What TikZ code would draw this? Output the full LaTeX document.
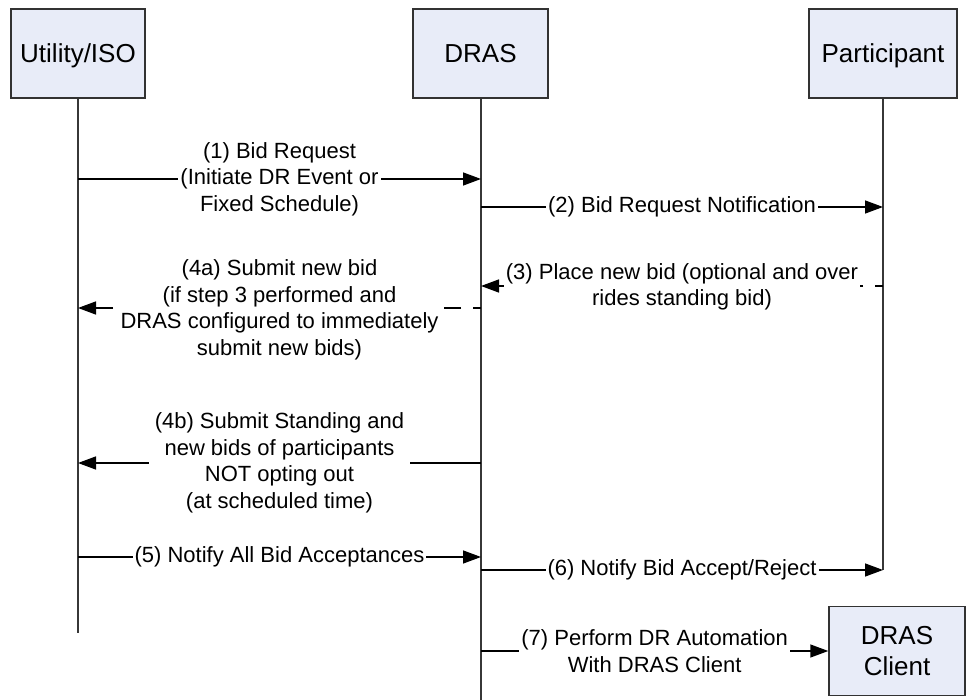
\documentclass[tikz,border=0pt]{standalone}
\usepackage{fontspec}
\setmainfont{Liberation Sans}
\usetikzlibrary{arrows.meta}
\definecolor{boxfill}{RGB}{232,236,248}
\definecolor{boxline}{RGB}{50,50,50}
\definecolor{lifecol}{RGB}{55,55,55}
\tikzset{
  actor/.style={draw=boxline, line width=1.5pt, fill=boxfill, minimum height=89pt,
    inner sep=0pt, align=center, font=\fontsize{26}{31}\selectfont},
  oneline/.style={text height=19pt, text depth=0pt},
  life/.style={draw=lifecol, line width=1.8pt},
  msg/.style={line width=1.5pt, -{Triangle[length=18pt,width=13pt]}},
  dmsg/.style={msg, dash pattern=on 17pt off 12pt, dash phase=9pt},
  lbl/.style={fill=white, inner sep=2pt, align=center, font=\fontsize{22}{26.5}\selectfont}
}
\begin{document}
\begin{tikzpicture}[x=1pt,y=-1pt]
\useasboundingbox (0,0) rectangle (967,700);
% actors
\node[actor, oneline, minimum width=134pt] (util) at (78,53.5) {Utility/ISO};
\node[actor, oneline, minimum width=135pt] (dras) at (480.5,53.5) {DRAS};
\node[actor, oneline, minimum width=148pt] (part) at (883,53.5) {Participant};
\node[actor, minimum width=136pt] (client) at (897,651) {DRAS\\Client};
% lifeline ends
\coordinate (utilEnd) at (78,633);
\coordinate (drasEnd) at (481,700);
\coordinate (partEnd) at (883,570);
\draw[life] (util.south) -- (utilEnd);
\draw[life] (dras.south -| drasEnd) -- (drasEnd);
\draw[life] (part.south) -- (partEnd);
% message anchor points
\coordinate (u1) at (78,179);   \coordinate (d1) at (481,179);
\coordinate (d2) at (481,207);  \coordinate (p2) at (883,207);
\coordinate (p3) at (883,286);  \coordinate (d3) at (481,286);
\coordinate (d4a) at (481,308); \coordinate (u4a) at (78,308);
\coordinate (d4b) at (481,463); \coordinate (u4b) at (78,463);
\coordinate (u5) at (78,557);   \coordinate (d5) at (481,557);
\coordinate (d6) at (481,570);  \coordinate (p6) at (883,570);
\coordinate (d7) at (481,651);
% messages
\draw[msg] (u1) -- (d1) node[midway, lbl] {(1) Bid Request\\(Initiate DR Event or\\Fixed Schedule)};
\draw[msg] (d2) -- (p2) node[midway, lbl] {(2) Bid Request Notification};
\draw[dmsg] (p3) -- (d3) node[midway, lbl, yshift=-1pt] {(3) Place new bid (optional and over\\rides standing bid)};
\draw[dmsg] (d4a) -- (u4a) node[midway, lbl, yshift=-2pt] {(4a) Submit new bid\\(if step 3 performed and\\DRAS configured to immediately\\submit new bids)};
\draw[msg] (d4b) -- (u4b) node[midway, lbl, inner xsep=6pt] {(4b) Submit Standing and\\new bids of participants\\NOT opting out\\(at scheduled time)};
\draw[msg] (u5) -- (d5) node[midway, lbl] {(5) Notify All Bid Acceptances};
\draw[msg] (d6) -- (p6) node[midway, lbl] {(6) Notify Bid Accept/Reject};
\draw[msg] (d7) -- (client.west) node[midway, lbl] {(7) Perform DR Automation\\With DRAS Client};
\end{tikzpicture}
\end{document}
